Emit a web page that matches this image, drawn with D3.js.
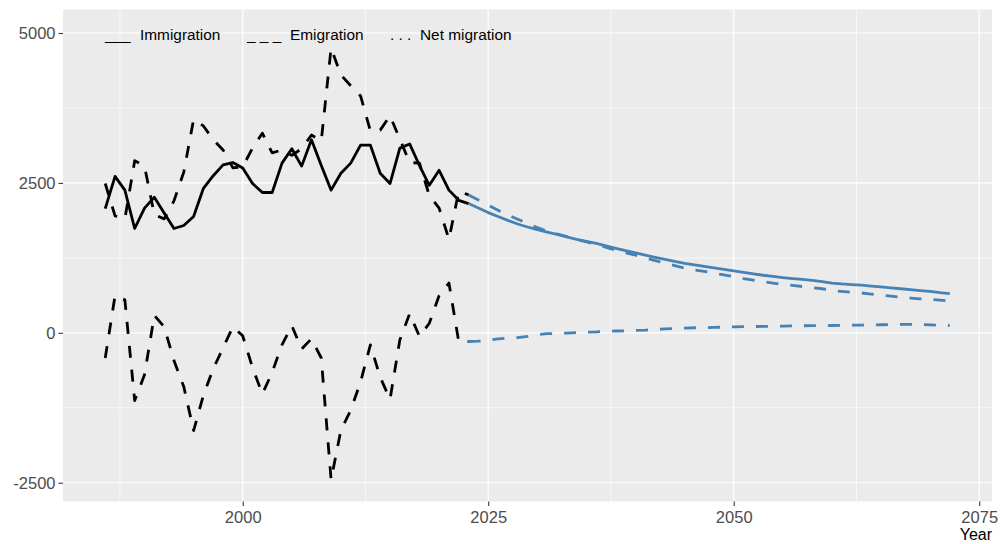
<!DOCTYPE html>
<html>
<head>
<meta charset="utf-8">
<script src="https://cdn.jsdelivr.net/npm/d3@7"></script>
<style>
    body { margin: 0; background: #ffffff; }
    svg { display: block; font-family: "Liberation Sans", Arial, sans-serif; }
</style>
</head>
<body>
<div id="chart"></div>
<script>
'use strict';

// observed series, 1986-2023
const histYears = d3.range(1986, 2024);
const histImmigration = [2070, 2610, 2380, 1740, 2080, 2260, 2000, 1740, 1790, 1940,
    2410, 2620, 2800, 2840, 2750, 2490, 2340, 2340, 2830, 3070,
    2780, 3220, 2790, 2380, 2660, 2830, 3130, 3130, 2660, 2490,
    3080, 3150, 2790, 2460, 2710, 2380, 2210, 2155];
const histEmigration = [2490, 1950, 1900, 2870, 2780, 1970, 1900, 2200, 2680, 3560,
    3450, 3220, 3050, 2750, 2770, 3080, 3330, 3000, 3050, 2960,
    3070, 3300, 3200, 4750, 4300, 4120, 3950, 3370, 3380, 3620,
    3230, 2840, 2830, 2290, 2080, 1560, 2360, 2300];
const histNet = [-420, 620, 550, -1130, -700, 290, 100, -460, -900, -1630,
    -1040, -600, -250, 100, -50, -580, -1020, -660, -200, 120,
    -270, -100, -420, -2450, -1620, -1290, -820, -200, -740, -1110,
    -120, 320, -60, 160, 620, 830, -150, -145];

// projection, 2023-2072
const projYears = d3.range(2023, 2073);
const projImmigration = [2155, 2080, 2005, 1940, 1875, 1815, 1765, 1720, 1680, 1640,
    1600, 1560, 1525, 1490, 1450, 1410, 1370, 1335, 1295, 1260,
    1225, 1190, 1160, 1135, 1110, 1085, 1060, 1035, 1010, 985,
    960, 940, 920, 905, 890, 875, 855, 830, 815, 805,
    795, 780, 765, 750, 735, 720, 705, 690, 670, 655];
const projEmigration = [2300, 2215, 2130, 2045, 1965, 1895, 1825, 1755, 1695, 1650,
    1605, 1555, 1515, 1475, 1425, 1380, 1335, 1295, 1250, 1205,
    1160, 1120, 1080, 1050, 1025, 995, 965, 935, 905, 880,
    852, 830, 808, 790, 772, 755, 735, 708, 690, 677,
    665, 647, 630, 612, 595, 580, 567, 558, 545, 533];
const projNet = [-145, -140, -125, -100, -90, -80, -60, -30, -15, -10,
    -5, 5, 10, 15, 25, 30, 35, 40, 45, 55,
    65, 70, 80, 85, 85, 90, 95, 100, 105, 105,
    108, 110, 112, 115, 118, 120, 120, 122, 125, 128,
    130, 133, 135, 138, 140, 140, 138, 132, 125, 122];

const xTicks = [2000, 2025, 2050, 2075];
const xMinor = [1987.5, 2012.5, 2037.5, 2062.5];
const yTicks = [-2500, 0, 2500, 5000];
const yMinor = [-1250, 1250, 3750];

const legendItems = [
    { symbol: '___', label: 'Immigration', x: 105, labelX: 140 },
    { symbol: '_ _ _', label: 'Emigration', x: 247, labelX: 290 },
    { symbol: '. . .', label: 'Net migration', x: 390, labelX: 420 }
];

class MigrationChart {

    constructor(divId, width, height) {
        this.width = width;
        this.height = height;
        this.panel = { left: 63, right: 992, top: 9.5, bottom: 501.5 };

        this.svg = d3.select('#' + divId).append('svg')
            .attr('width', width)
            .attr('height', height);

        this.x = d3.scaleLinear().domain([1981.7, 2076.3]).range([this.panel.left, this.panel.right]);
        this.y = d3.scaleLinear().domain([-2813, 5392]).range([this.panel.bottom, this.panel.top]);
    }

    renderPanel() {
        let self = this;
        let p = this.panel;

        this.svg.append('rect')
            .attr('x', p.left)
            .attr('y', p.top)
            .attr('width', p.right - p.left)
            .attr('height', p.bottom - p.top)
            .style('fill', '#ebebeb');

        let grid = this.svg.append('g').attr('class', 'grid');

        // minor lines first, majors on top
        grid.selectAll('.x-minor').data(xMinor).enter().append('line')
            .attr('x1', function (d) { return self.x(d); })
            .attr('x2', function (d) { return self.x(d); })
            .attr('y1', p.top).attr('y2', p.bottom)
            .style('stroke', '#ffffff').style('stroke-width', 0.6);

        grid.selectAll('.y-minor').data(yMinor).enter().append('line')
            .attr('y1', function (d) { return self.y(d); })
            .attr('y2', function (d) { return self.y(d); })
            .attr('x1', p.left).attr('x2', p.right)
            .style('stroke', '#ffffff').style('stroke-width', 0.6);

        grid.selectAll('.x-major').data(xTicks).enter().append('line')
            .attr('x1', function (d) { return self.x(d); })
            .attr('x2', function (d) { return self.x(d); })
            .attr('y1', p.top).attr('y2', p.bottom)
            .style('stroke', '#ffffff').style('stroke-width', 1.2);

        grid.selectAll('.y-major').data(yTicks).enter().append('line')
            .attr('y1', function (d) { return self.y(d); })
            .attr('y2', function (d) { return self.y(d); })
            .attr('x1', p.left).attr('x2', p.right)
            .style('stroke', '#ffffff').style('stroke-width', 1.2);
    }

    renderAxes() {
        let p = this.panel;

        // plain hyphen for negatives, as in the original
        let plain = function (d) { return String(d); };

        let xAxis = d3.axisBottom(this.x)
            .tickValues(xTicks)
            .tickFormat(plain)
            .tickSize(4.5)
            .tickPadding(5);

        let yAxis = d3.axisLeft(this.y)
            .tickValues(yTicks)
            .tickFormat(plain)
            .tickSize(4.5)
            .tickPadding(3);

        let gx = this.svg.append('g')
            .attr('transform', 'translate(0,' + p.bottom + ')')
            .call(xAxis);

        let gy = this.svg.append('g')
            .attr('transform', 'translate(' + p.left + ',0)')
            .call(yAxis);

        [gx, gy].forEach(function (g) {
            g.select('.domain').remove();
            g.selectAll('.tick line').style('stroke', '#333333').style('stroke-width', 1.07);
            g.selectAll('.tick text')
                .style('fill', '#4d4d4d')
                .style('font-size', '16.5px')
                .style('font-family', '"Liberation Sans", Arial, sans-serif');
        });

        this.svg.append('text')
            .text('Year')
            .attr('x', p.right)
            .attr('y', 540)
            .style('text-anchor', 'end')
            .style('font-size', '16px')
            .style('fill', '#000000');
    }

    renderSeries(years, values, color, dashed) {
        let self = this;
        let line = d3.line()
            .x(function (d, i) { return self.x(years[i]); })
            .y(function (d) { return self.y(d); });

        this.svg.append('path')
            .datum(values)
            .attr('d', line)
            .style('fill', 'none')
            .style('stroke', color)
            .style('stroke-width', 2.8)
            .style('stroke-linejoin', 'round')
            .style('stroke-dasharray', dashed ? '12,12' : null);
    }

    renderLegend() {
        let legend = this.svg.append('g').attr('class', 'legend');

        legendItems.forEach(function (item) {
            legend.append('text')
                .text(item.symbol)
                .attr('x', item.x)
                .attr('y', 40)
                .style('font-size', '15.4px')
                .style('fill', '#000000');
            legend.append('text')
                .text(item.label)
                .attr('x', item.labelX)
                .attr('y', 40)
                .style('font-size', '15.4px')
                .style('fill', '#000000');
        });
    }

    render() {
        this.svg.append('rect')
            .attr('width', this.width)
            .attr('height', this.height)
            .style('fill', '#ffffff');

        this.renderPanel();

        this.renderSeries(histYears, histImmigration, '#000000', false);
        this.renderSeries(histYears, histEmigration, '#000000', true);
        this.renderSeries(histYears, histNet, '#000000', true);

        this.renderSeries(projYears, projImmigration, '#4682b4', false);
        this.renderSeries(projYears, projEmigration, '#4682b4', true);
        this.renderSeries(projYears, projNet, '#4682b4', true);

        this.renderAxes();
        this.renderLegend();
    }
}

let chart = new MigrationChart('chart', 1000, 544);
chart.render();
</script>
</body>
</html>
